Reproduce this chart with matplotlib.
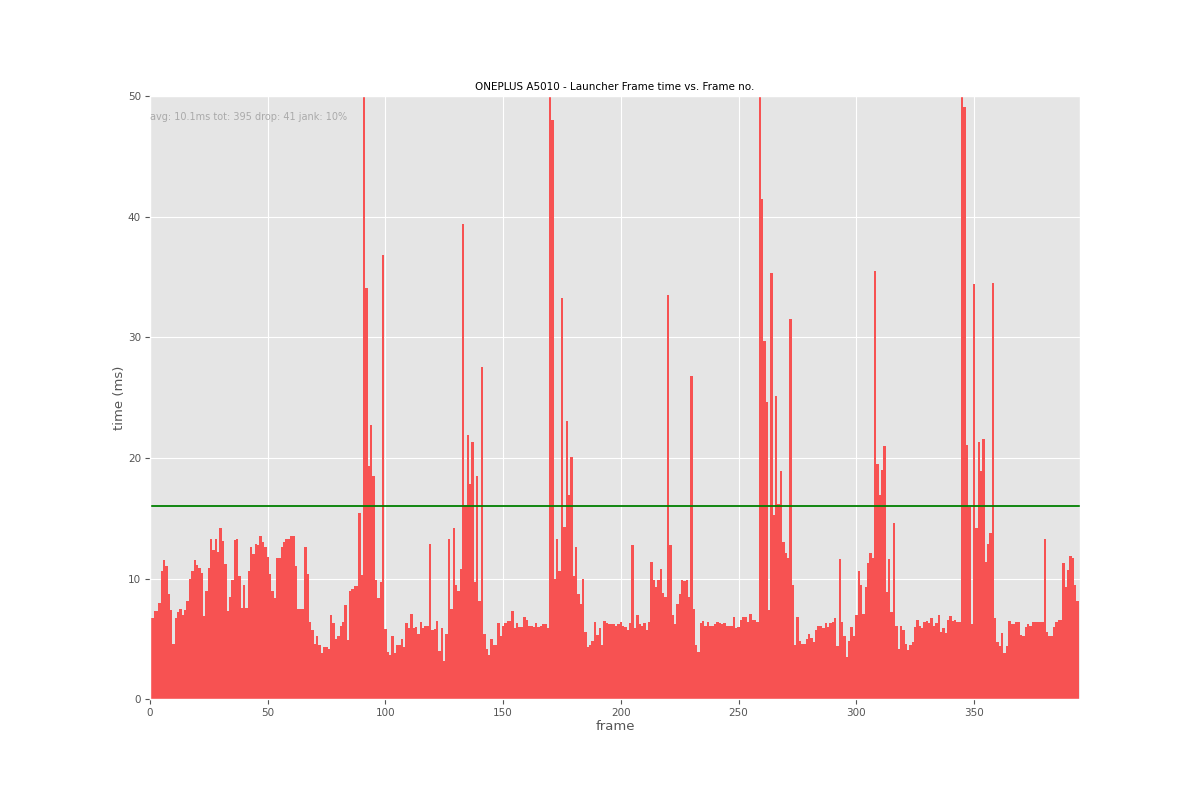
import numpy as np
import matplotlib
matplotlib.use('Agg')
import matplotlib.pyplot as plt

plt.style.use('ggplot')

# frame times in ms, one per frame (0..394)
# the four bars that leave the top of the axis are clipped at 50 there
frame_times = [
    6.7, 6.7, 7.3, 7.3, 8.0, 10.6, 11.5, 11.0, 8.7, 7.4,
    4.6, 6.7, 7.2, 7.5, 7.0, 7.4, 8.1, 10.0, 10.6, 11.5,
    11.1, 10.9, 10.5, 6.9, 9.0, 10.9, 13.3, 12.4, 13.3, 12.2,
    14.2, 13.1, 11.2, 7.3, 8.5, 9.9, 13.2, 13.3, 10.2, 7.6,
    9.45, 7.6, 10.6, 12.6, 12.0, 12.9, 12.8, 13.5, 13.0, 12.6,
    11.8, 10.4, 9.0, 8.4, 11.7, 11.7, 12.6, 13.0, 13.3, 13.3,
    13.5, 13.5, 11.0, 7.5, 7.5, 7.5, 12.6, 10.4, 6.4, 5.7,
    4.6, 5.2, 4.5, 3.8, 4.3, 4.3, 4.2, 7.0, 6.3, 5.0,
    5.2, 6.1, 6.4, 7.8, 4.9, 9.0, 9.1, 9.4, 9.4, 15.4,
    10.3, 90.0, 34.1, 19.35, 22.7, 18.5, 9.9, 8.4, 9.7, 36.8,
    5.8, 3.9, 3.7, 5.2, 3.85, 4.5, 4.5, 5.0, 4.3, 6.3,
    5.9, 7.1, 5.9, 6.0, 5.4, 6.4, 5.9, 6.1, 6.1, 12.9,
    5.7, 5.85, 6.47, 4.0, 5.9, 3.2, 5.4, 13.3, 7.5, 14.2,
    9.5, 9.0, 10.8, 39.4, 16.1, 21.9, 17.8, 21.3, 9.7, 18.5,
    8.1, 27.5, 5.4, 4.2, 3.7, 5.0, 4.5, 4.5, 6.3, 5.2,
    6.1, 6.3, 6.5, 6.5, 7.3, 5.9, 6.3, 6.0, 6.0, 6.8,
    6.6, 6.1, 6.1, 6.0, 6.3, 6.0, 6.1, 6.2, 6.2, 5.9,
    85.0, 48.0, 10.0, 13.3, 10.6, 33.25, 14.3, 23.1, 16.9, 20.1,
    10.2, 12.6, 8.7, 7.9, 10.0, 5.6, 4.3, 4.5, 4.8, 6.4,
    5.3, 5.9, 4.5, 6.5, 6.3, 6.2, 6.2, 6.2, 6.1, 6.2,
    6.4, 6.05, 6.0, 5.75, 6.3, 12.8, 5.9, 7.0, 6.2, 6.1,
    6.3, 5.75, 6.4, 11.4, 9.9, 9.3, 9.9, 10.8, 8.8, 8.5,
    33.5, 12.8, 7.0, 6.2, 7.9, 8.7, 9.9, 9.8, 9.9, 8.5,
    26.8, 7.5, 4.5, 3.9, 6.3, 6.5, 6.1, 6.4, 6.05, 6.1,
    6.2, 6.4, 6.3, 6.2, 6.3, 6.1, 6.05, 6.1, 6.8, 5.9,
    6.0, 6.6, 6.8, 6.8, 6.4, 7.1, 6.6, 6.6, 6.4, 95.0,
    41.5, 29.7, 24.6, 7.4, 35.3, 15.3, 25.1, 16.2, 18.9, 13.0,
    12.1, 11.7, 31.5, 9.5, 4.5, 6.8, 4.85, 4.6, 4.6, 4.95,
    5.4, 5.1, 4.75, 5.7, 6.05, 6.1, 5.9, 6.3, 6.0, 6.3,
    6.4, 6.75, 4.4, 11.6, 6.4, 5.2, 3.5, 4.8, 6.0, 5.2,
    7.0, 10.6, 9.45, 7.1, 9.3, 11.3, 12.1, 11.7, 35.5, 19.5,
    16.9, 19.0, 21.0, 8.9, 11.6, 7.2, 14.6, 6.1, 4.2, 6.05,
    5.7, 4.6, 4.1, 4.5, 4.7, 6.0, 6.6, 6.05, 5.9, 6.4,
    6.5, 6.3, 6.75, 6.05, 6.3, 7.0, 5.6, 5.94, 5.5, 6.6,
    6.9, 6.5, 6.55, 6.4, 6.4, 100.0, 49.1, 21.1, 15.9, 6.2,
    34.4, 14.2, 21.3, 18.9, 21.6, 11.4, 12.9, 13.8, 34.5, 6.74,
    4.75, 4.45, 5.5, 3.8, 4.45, 6.5, 6.2, 6.2, 6.36, 6.36,
    5.3, 5.25, 6.0, 6.2, 6.05, 6.44, 6.36, 6.36, 6.4, 6.4,
    13.3, 5.6, 5.2, 5.25, 6.0, 6.36, 6.55, 6.55, 11.3, 9.3,
    10.7, 11.9, 11.7, 9.45, 8.1,
]
frames = np.arange(len(frame_times))

device = 'ONEPLUS A5010'
app = 'Launcher'
threshold = 16
stats_text = 'avg: 10.1ms tot: 395 drop: 41 jank: 10%'

fig = plt.figure(figsize=(12, 8), dpi=100)
ax = fig.add_subplot(111)
fig.subplots_adjust(left=0.125, right=0.9, top=0.88, bottom=0.126)

ax.bar(frames, frame_times, width=1.0, color='#f75252', linewidth=0)
ax.axhline(threshold, color='g', linewidth=1.3)

ax.set_xlim(0, len(frame_times))
ax.set_ylim(0, 50)
ax.set_xticks(np.arange(0, 400, 50))
ax.set_yticks(np.arange(0, 60, 10))
ax.tick_params(labelsize=7.5, colors='#555555', pad=3)

ax.set_title(device + ' - ' + app + ' Frame time vs. Frame no.', fontsize=7.5, pad=4)
ax.set_xlabel('frame', fontsize=9.5, color='#555555', labelpad=1)
ax.set_ylabel('time (ms)', fontsize=9.5, color='#555555', labelpad=1)
ax.text(0.0, 0.965, stats_text, transform=ax.transAxes, fontsize=7,
        color='#aaaaaa', va='center', ha='left')

plt.savefig('out.png')
